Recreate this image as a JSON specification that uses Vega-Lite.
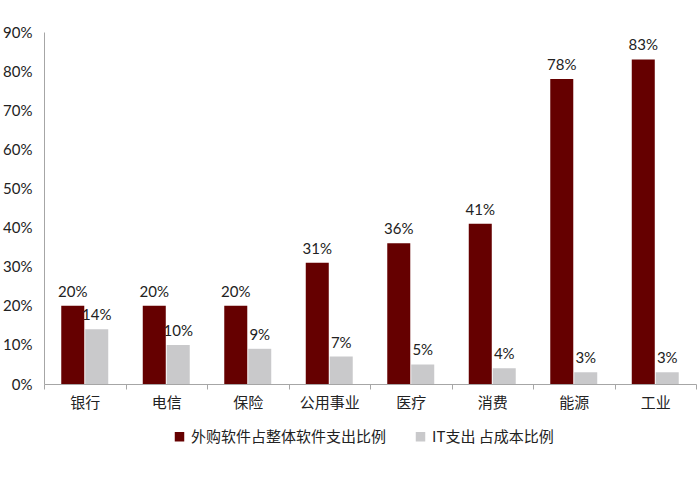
{
  "$schema": "https://vega.github.io/schema/vega-lite/v6.json",
  "width": 652,
  "height": 352,
  "autosize": {"type": "none"},
  "padding": {"left": 44, "top": 32, "right": 4, "bottom": 93},
  "background": "white",
  "config": {"view": {"stroke": null}},
  "data": {
    "values": [
      {"cat": "银行", "series": "外购软件占整体软件支出比例", "v": 0.20},
      {"cat": "银行", "series": "IT支出 占成本比例", "v": 0.14},
      {"cat": "电信", "series": "外购软件占整体软件支出比例", "v": 0.20},
      {"cat": "电信", "series": "IT支出 占成本比例", "v": 0.10},
      {"cat": "保险", "series": "外购软件占整体软件支出比例", "v": 0.20},
      {"cat": "保险", "series": "IT支出 占成本比例", "v": 0.09},
      {"cat": "公用事业", "series": "外购软件占整体软件支出比例", "v": 0.31},
      {"cat": "公用事业", "series": "IT支出 占成本比例", "v": 0.07},
      {"cat": "医疗", "series": "外购软件占整体软件支出比例", "v": 0.36},
      {"cat": "医疗", "series": "IT支出 占成本比例", "v": 0.05},
      {"cat": "消费", "series": "外购软件占整体软件支出比例", "v": 0.41},
      {"cat": "消费", "series": "IT支出 占成本比例", "v": 0.04},
      {"cat": "能源", "series": "外购软件占整体软件支出比例", "v": 0.78},
      {"cat": "能源", "series": "IT支出 占成本比例", "v": 0.03},
      {"cat": "工业", "series": "外购软件占整体软件支出比例", "v": 0.83},
      {"cat": "工业", "series": "IT支出 占成本比例", "v": 0.03}
    ]
  },
  "encoding": {
    "x": {
      "field": "cat", "type": "nominal", "sort": null,
      "scale": {"paddingInner": 0, "paddingOuter": 0},
      "axis": {
        "title": null, "labelAngle": 0, "tickBand": "extent",
        "domainColor": "#A6A6A6", "tickColor": "#A6A6A6", "tickSize": 5,
        "labelFont": "Noto Sans CJK SC", "labelFontSize": 15, "labelColor": "#222222",
        "labelPadding": 6
      }
    },
    "xOffset": {
      "field": "series", "type": "nominal",
      "sort": ["外购软件占整体软件支出比例", "IT支出 占成本比例"],
      "scale": {"paddingOuter": 0.72, "paddingInner": 0.04}
    },
    "y": {
      "field": "v", "type": "quantitative",
      "scale": {"domain": [0, 0.9]},
      "axis": {
        "title": null, "format": ".0%", "tickCount": 9, "grid": false, "ticks": false,
        "domainColor": "#A6A6A6", "labelFont": "Lato", "labelFontSize": 15,
        "labelColor": "#222222", "labelPadding": 12
      }
    }
  },
  "layer": [
    {
      "mark": {"type": "bar"},
      "encoding": {
        "color": {
          "field": "series", "type": "nominal",
          "sort": ["外购软件占整体软件支出比例", "IT支出 占成本比例"],
          "scale": {"domain": ["外购软件占整体软件支出比例", "IT支出 占成本比例"], "range": ["#650000", "#C9C9CB"]},
          "legend": {
            "title": null, "orient": "none", "direction": "horizontal",
            "legendX": 128, "legendY": 397,
            "symbolType": "square", "symbolSize": 90, "symbolStrokeWidth": 0,
            "labelFont": "Noto Sans CJK SC", "labelFontSize": 15, "labelColor": "#222222",
            "labelLimit": 0, "columnPadding": 26
          }
        }
      }
    },
    {
      "mark": {"type": "text", "baseline": "bottom", "dy": -6, "font": "Lato", "fontSize": 15, "color": "#222222"},
      "encoding": {
        "text": {"field": "v", "type": "quantitative", "format": ".0%"}
      }
    }
  ]
}
